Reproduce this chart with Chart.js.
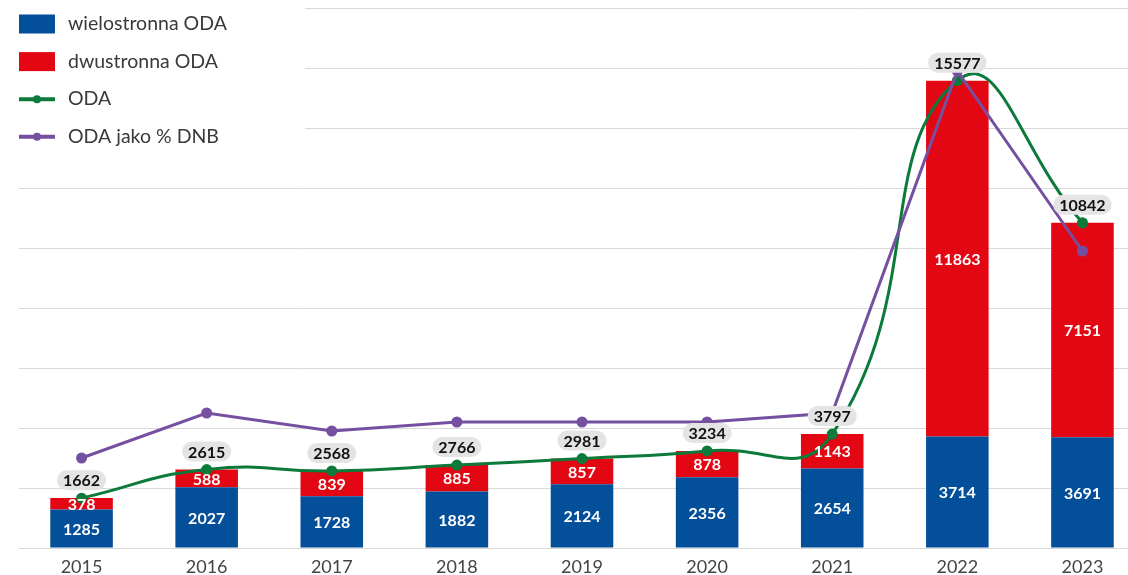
<!DOCTYPE html>
<html>
<head>
<meta charset="utf-8">
<script src="https://cdn.jsdelivr.net/npm/chart.js@4"></script>
<style>
  html, body { margin: 0; padding: 0; background: #fff; overflow: hidden; }
  #wrap { width: 1152px; height: 575px; }
  canvas { display: block; }
</style>
</head>
<body>
<div id="wrap"><canvas id="odaChart" width="1152" height="575" style="width:1152px;height:575px"></canvas></div>
<script>
const years = ['2015', '2016', '2017', '2018', '2019', '2020', '2021', '2022', '2023'];
const multilateral = [1285, 2027, 1728, 1882, 2124, 2356, 2654, 3714, 3691];
const bilateral = [378, 588, 839, 885, 857, 878, 1143, 11863, 7151];
const odaTotal = [1662, 2615, 2568, 2766, 2981, 3234, 3797, 15577, 10842];
const odaGni = [0.10, 0.15, 0.13, 0.14, 0.14, 0.14, 0.15, 0.53, 0.33];

const BLUE = '#034f9a', RED = '#e30613', GREEN = '#0b7a3b', PURPLE = '#7650a0';
const FONT = 'Lato, "Noto Sans", sans-serif';

const legendItems = [
  {text: 'wielostronna ODA', color: BLUE, type: 'box'},
  {text: 'dwustronna ODA', color: RED, type: 'box'},
  {text: 'ODA', color: GREEN, type: 'line'},
  {text: 'ODA jako % DNB', color: PURPLE, type: 'line'}
];

function roundRect(ctx, x, y, w, h, r) {
  ctx.beginPath();
  ctx.moveTo(x + r, y);
  ctx.arcTo(x + w, y, x + w, y + h, r);
  ctx.arcTo(x + w, y + h, x, y + h, r);
  ctx.arcTo(x, y + h, x, y, r);
  ctx.arcTo(x, y, x + w, y, r);
  ctx.closePath();
}

// values inside the bars and totals above the ODA line
const labelsPlugin = {
  id: 'labels',
  afterDatasetsDraw(chart) {
    const ctx = chart.ctx;
    ctx.save();
    ctx.textAlign = 'center';
    ctx.textBaseline = 'middle';
    ctx.font = 'bold 16px ' + FONT;
    ctx.fillStyle = '#fff';
    [0, 1].forEach(di => {
      const meta = chart.getDatasetMeta(di);
      const vals = chart.data.datasets[di].data;
      meta.data.forEach((bar, i) => {
        ctx.fillText(vals[i], bar.x, (bar.y + bar.base) / 2 + 1);
      });
    });
    const line = chart.getDatasetMeta(2);
    line.data.forEach((pt, i) => {
      const txt = String(odaTotal[i]);
      const w = ctx.measureText(txt).width + 12;
      const cy = pt.y - 18;
      ctx.fillStyle = '#e4e4e4';
      roundRect(ctx, pt.x - w / 2, cy - 10, w, 20, 10);
      ctx.fill();
      ctx.fillStyle = '#111';
      ctx.fillText(txt, pt.x, cy + 1);
    });
    ctx.restore();
  },
  afterDraw(chart) {
    const ctx = chart.ctx;
    ctx.save();
    ctx.fillStyle = '#fff';
    ctx.fillRect(0, 0, 305, 160);
    ctx.font = '19.5px ' + FONT;
    ctx.textBaseline = 'middle';
    ctx.textAlign = 'left';
    legendItems.forEach((it, i) => {
      const cy = 24 + i * 37.6;
      if (it.type === 'box') {
        ctx.fillStyle = it.color;
        ctx.fillRect(19, cy - 9.5, 36, 19);
      } else {
        ctx.strokeStyle = it.color;
        ctx.lineWidth = 4;
        ctx.beginPath();
        ctx.moveTo(19, cy);
        ctx.lineTo(55, cy);
        ctx.stroke();
        ctx.fillStyle = it.color;
        ctx.beginPath();
        ctx.arc(37, cy, 4, 0, Math.PI * 2);
        ctx.fill();
      }
      ctx.fillStyle = '#3a3a3a';
      ctx.fillText(it.text, 68, cy);
    });
    ctx.restore();
  }
};

new Chart(document.getElementById('odaChart'), {
  type: 'bar',
  data: {
    labels: years,
    datasets: [
      {label: 'wielostronna ODA', data: multilateral, backgroundColor: BLUE, stack: 's', order: 2,
       barPercentage: 0.5, categoryPercentage: 1},
      {label: 'dwustronna ODA', data: bilateral, backgroundColor: RED, stack: 's', order: 2,
       barPercentage: 0.5, categoryPercentage: 1},
      {type: 'line', label: 'ODA', data: odaTotal, borderColor: GREEN, backgroundColor: GREEN,
       borderWidth: 3, pointRadius: 4, pointHoverRadius: 4, tension: 0.5, order: 1, yAxisID: 'y'},
      {type: 'line', label: 'ODA jako % DNB', data: odaGni, borderColor: PURPLE, backgroundColor: PURPLE,
       borderWidth: 3, pointRadius: 4, pointHoverRadius: 4, tension: 0, order: 0, yAxisID: 'y2'}
    ]
  },
  options: {
    responsive: false,
    animation: false,
    devicePixelRatio: 1,
    layout: {padding: {left: 19, right: 0, top: 8, bottom: 0}},
    plugins: {legend: {display: false}, tooltip: {enabled: false}},
    scales: {
      x: {
        stacked: true,
        grid: {display: false, drawTicks: false, tickLength: 0},
        border: {display: false},
        ticks: {color: '#444', font: {family: FONT, size: 18}, padding: 8},
        afterFit: s => { s.height = 27; }
      },
      y: {
        stacked: true,
        min: 0, max: 18000,
        ticks: {display: false, stepSize: 2000},
        grid: {color: '#d9d9d9', drawTicks: false},
        border: {display: false},
        afterFit: s => { s.width = 0; }
      },
      y2: {
        display: false,
        min: 0, max: 0.6
      }
    }
  },
  plugins: [labelsPlugin]
});
</script>
</body>
</html>
